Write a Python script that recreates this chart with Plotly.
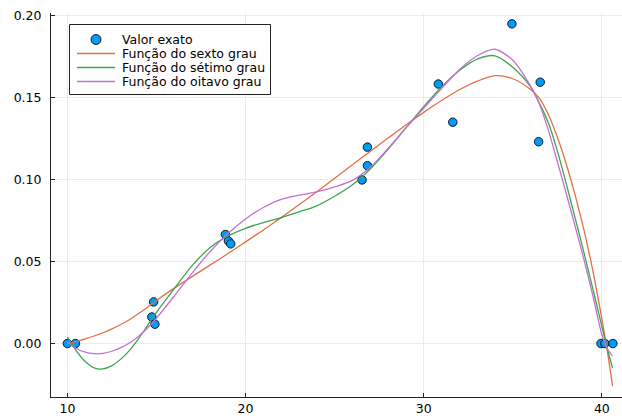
import plotly.graph_objects as go

# Data points (Valor exato)
pts_x = [10.0, 10.45, 14.74, 14.84, 14.91, 18.87, 19.04, 19.17, 26.54, 26.84, 26.84,
         30.82, 31.63, 34.95, 36.45, 36.54, 39.95, 40.17, 40.62]
pts_y = [0.0, 0.0, 0.0162, 0.0254, 0.0118, 0.0665, 0.0625, 0.0608, 0.0998, 0.1198, 0.1085,
         0.1583, 0.135, 0.195, 0.1231, 0.1594, 0.0, 0.0, 0.0]

# Curve sample positions
curve_x = [10, 10.5, 11, 11.5, 12, 12.5, 13, 13.5, 14, 14.5, 15, 16, 17, 18, 19, 20, 21, 22,
           23, 24, 25, 26, 27, 28, 29, 30, 31, 32, 33, 34, 35, 36, 36.5, 37, 37.5, 38, 38.5,
           39, 39.5, 40, 40.3, 40.6]

sexto = [0.0, 0.0012, 0.0028, 0.0046, 0.0066, 0.0089, 0.0116, 0.0147, 0.0183, 0.0222, 0.0263,
         0.0338, 0.0408, 0.0478, 0.0548, 0.062, 0.0693, 0.0768, 0.0846, 0.0926, 0.1008, 0.109,
         0.1172, 0.1253, 0.1333, 0.141, 0.1482, 0.1548, 0.16, 0.1634, 0.1615, 0.155, 0.1495,
         0.1395, 0.126, 0.1095, 0.0905, 0.069, 0.044, 0.015, -0.004, -0.026]

setimo = [0.004, -0.0045, -0.011, -0.0148, -0.0155, -0.0135, -0.0095, -0.004, 0.003, 0.011,
          0.019, 0.0335, 0.0475, 0.0585, 0.0655, 0.0703, 0.0738, 0.0768, 0.0803, 0.084, 0.0898,
          0.0968, 0.1065, 0.1185, 0.1315, 0.1445, 0.1565, 0.1665, 0.1735, 0.1755, 0.1685, 0.1565,
          0.1465, 0.1345, 0.1175, 0.0975, 0.0765, 0.0552, 0.033, 0.0105, -0.003, -0.0148]

oitavo = [0.001, -0.003, -0.0053, -0.0062, -0.006, -0.0047, -0.0025, 0.0005, 0.0045, 0.0095,
          0.0155, 0.029, 0.043, 0.056, 0.067, 0.076, 0.083, 0.088, 0.0905, 0.0925, 0.0955,
          0.0995, 0.1075, 0.119, 0.1315, 0.1435, 0.1555, 0.167, 0.1755, 0.1795, 0.1728, 0.157,
          0.146, 0.130, 0.111, 0.0915, 0.0715, 0.051, 0.029, 0.0055, -0.003, -0.0077]

y_ticks = [0.0, 0.05, 0.10, 0.15, 0.20]
y_labels = ["0.00", "0.05", "0.10", "0.15", "0.20"]
x_ticks = [10, 20, 30, 40]
x_labels = ["10", "20", "30", "40"]

series_names = ["Valor exato", "Função do sexto grau", "Função do sétimo grau", "Função do oitavo grau"]
line_colors = ["#E36F47", "#3EA44E", "#C371D2"]
point_color = "#009AFA"

FONT = "DejaVu Sans"
W, H = 622, 416
ML, MR, MT, MB = 51, 0, 13, 19
PW, PH = W - ML - MR, H - MT - MB


def px(xpix):
    return (xpix - ML) / PW


def py(ypix):
    return (H - MB - ypix) / PH


fig = go.Figure()
fig.add_trace(go.Scatter(
    x=pts_x, y=pts_y, mode="markers", name=series_names[0],
    marker=dict(color=point_color, size=8.5, line=dict(color="rgba(0,0,0,0.85)", width=1)),
))
for name, ys, col in zip(series_names[1:], [sexto, setimo, oitavo], line_colors):
    fig.add_trace(go.Scatter(
        x=curve_x, y=ys, mode="lines", name=name,
        line=dict(color=col, width=1.3, shape="spline", smoothing=0.8),
    ))

# Custom legend (compact rows like the reference)
shapes = []
annotations = []
box_l, box_t, box_r, box_b = 69.5, 24.5, 270.5, 94.5
shapes.append(dict(type="rect", xref="paper", yref="paper",
                   x0=px(box_l), x1=px(box_r), y0=py(box_b), y1=py(box_t),
                   line=dict(color="#222", width=1), fillcolor="white", layer="above"))
row0, row_step = 39.5, 14
for i, name in enumerate(series_names):
    yc = row0 + i * row_step
    if i == 0:
        shapes.append(dict(type="circle", xref="paper", yref="paper",
                           xsizemode="pixel", ysizemode="pixel",
                           xanchor=px(96), yanchor=py(yc),
                           x0=-5, x1=5, y0=-5, y1=5,
                           fillcolor=point_color, line=dict(color="rgba(0,0,0,0.85)", width=1),
                           layer="above"))
    else:
        shapes.append(dict(type="line", xref="paper", yref="paper",
                           x0=px(77), x1=px(115), y0=py(yc), y1=py(yc),
                           line=dict(color=line_colors[i - 1], width=1.3), layer="above"))
    annotations.append(dict(xref="paper", yref="paper", x=px(120), y=py(yc),
                            xanchor="left", yanchor="middle", text=name, showarrow=False,
                            font=dict(family=FONT, size=12.5, color="#000")))

fig.update_layout(
    width=W, height=H,
    margin=dict(l=ML, r=MR, t=MT, b=MB),
    paper_bgcolor="white", plot_bgcolor="white",
    font=dict(family=FONT, size=12.5, color="#000"),
    showlegend=False,
    shapes=shapes, annotations=annotations,
)
fig.update_xaxes(
    range=[9.08, 41.13], tickvals=x_ticks, ticktext=x_labels,
    showgrid=True, gridcolor="#ebebeb", gridwidth=1, zeroline=False,
    showline=True, linecolor="#222", linewidth=1,
    ticks="inside", ticklen=4, tickcolor="#222",
    tickfont=dict(family=FONT, size=12.5, color="#000"),
    automargin=False,
)
fig.update_yaxes(
    range=[-0.0326, 0.2016], tickvals=y_ticks, ticktext=y_labels,
    showgrid=True, gridcolor="#ebebeb", gridwidth=1, zeroline=False,
    showline=True, linecolor="#222", linewidth=1,
    ticks="inside", ticklen=4, tickcolor="#222",
    tickfont=dict(family=FONT, size=12.5, color="#000"),
    ticklabelstandoff=6, automargin=False,
)

fig.write_html("out.html", config={"displayModeBar": False},
               post_script="document.body.style.margin='0';document.body.style.overflow='hidden';")
